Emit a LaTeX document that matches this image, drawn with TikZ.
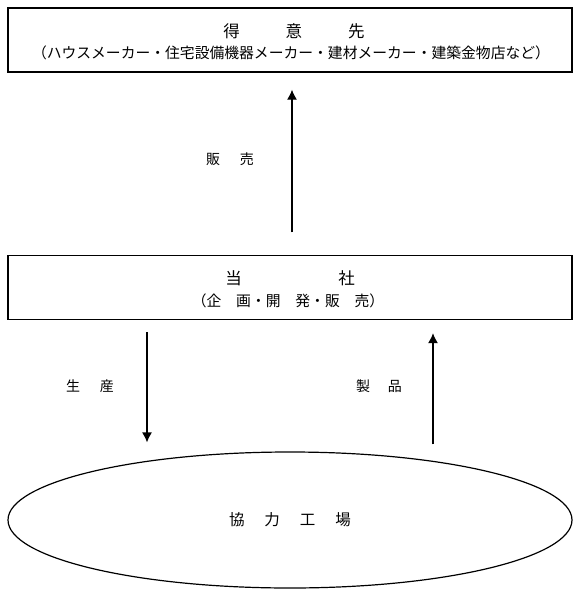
\documentclass[tikz,border=0pt]{standalone}
\usepackage{fontspec}
\setmainfont{Noto Sans CJK JP}
\usetikzlibrary{positioning}
\usetikzlibrary{arrows.meta}
\usetikzlibrary{shapes.geometric}

\begin{document}
\begin{tikzpicture}[x=1pt,y=-1pt,>={Latex[length=10pt,width=10pt]},
  box/.style={draw,line width=1.4pt,rectangle,minimum width=564pt,minimum height=64pt,inner sep=0pt},
  big/.style={font=\fontsize{16.5}{19}\selectfont,inner sep=0pt},
  small/.style={font=\fontsize{14.8}{18}\selectfont,inner sep=0pt},
  tag/.style={font=\fontsize{14}{16}\selectfont,inner sep=0pt}]

\useasboundingbox (0,0) rectangle (580,595);

\node[box] (client) at (290,40) {};
\node[big] (clienttitle) at (294,31) {得\hspace{46pt}意\hspace{46pt}先};
\node[small] (clientsub) at (291,53) {（ハウスメーカー・住宅設備機器メーカー・建材メーカー・建築金物店など）};

\node[box] (company) at (290,287.5) {};
\node[big] (companytitle) at (290,278) {当\hspace{96.5pt}社};
\node[small] (companysub) at (288,301) {（企　画・開　発・販　売）};

\node[draw,ellipse,line width=1.2pt,minimum width=564pt,minimum height=136pt,inner sep=0pt,
  font=\fontsize{15.5}{18}\selectfont] (factory) at (290,520) {協\hspace{20pt}力\hspace{20pt}工\hspace{20pt}場};

\coordinate (salesx) at (292,0);
\coordinate (makex) at (147,0);
\coordinate (goodsx) at (433,0);

\draw[->,line width=1.2pt,shorten <=22.5pt,shorten >=17pt] (company.north -| salesx) -- (client.south -| salesx);
\draw[->,line width=1.2pt,shorten <=12pt,shorten >=9pt] (company.south -| makex) -- (makex |- factory.north);
\draw[->,line width=1.2pt,shorten <=7pt,shorten >=13pt] (goodsx |- factory.north) -- (company.south -| goodsx);

\node[tag] (sales) at (230,159) {販\hspace{20pt}売};
\node[tag] (make) at (90,386) {生\hspace{20pt}産};
\node[tag] (goods) at (379,386) {製\hspace{18pt}品};
\end{tikzpicture}
\end{document}
